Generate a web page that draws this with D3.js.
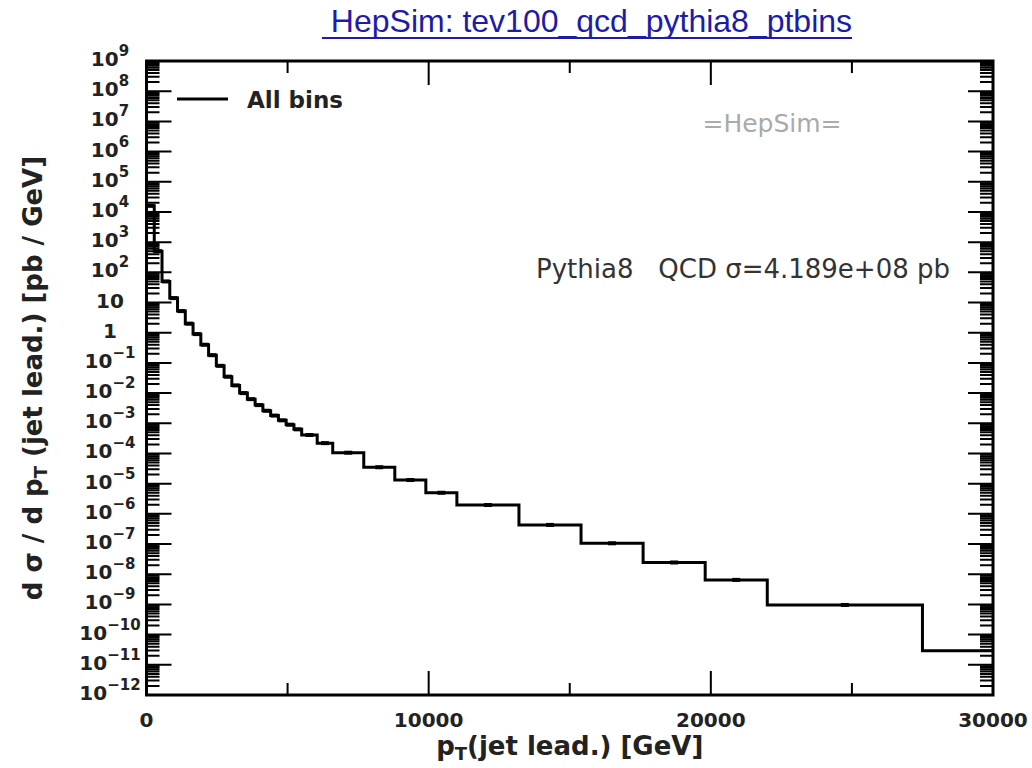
<!DOCTYPE html>
<html>
<head>
<meta charset="utf-8">
<script src="https://cdn.jsdelivr.net/npm/d3@7"></script>
<style>
  body { margin: 0; background: #fff; }
</style>
</head>
<body>
<div class="chart"></div>
<script>
// histogram bin edges (GeV) and dsigma/dpT values (pb/GeV)
const binEdges = [0, 275, 550, 825, 1100, 1375, 1650, 1925, 2200, 2475, 2750, 3025, 3300, 3575, 3850,
    4125, 4400, 4675, 4950, 5225, 5500, 6050, 6600, 7700, 8800, 9900, 11000, 13200, 15400, 17600,
    19800, 22000, 27500, 33000];
const binValues = [1.6e4, 5.0e2, 5.0e1, 1.4e1, 5.2, 2.0, 9.0e-1, 4.0e-1, 1.8e-1, 8.0e-2, 3.5e-2, 1.8e-2,
    1.0e-2, 6.3e-3, 4.0e-3, 2.6e-3, 1.8e-3, 1.25e-3, 9.0e-4, 6.3e-4, 4.1e-4, 2.2e-4, 1.06e-4, 3.5e-5,
    1.32e-5, 5.0e-6, 1.96e-6, 4.3e-7, 1.06e-7, 2.45e-8, 6.5e-9, 9.6e-10, 2.9e-11];

const yExponents = d3.range(-12, 10);
const xMajorTicks = [0, 10000, 20000, 30000];
const xMinorTicks = [5000, 15000, 25000];

const title = " HepSim: tev100_qcd_pythia8_ptbins";
const legendLabel = "All bins";
const watermark = "=HepSim=";
const infoText = "Pythia8   QCD \u03c3=4.189e+08 pb";

const width = 1032, height = 768;
const pLeft = 146.5, pRight = 993, pTop = 61, pBottom = 695;

const x = d3.scaleLinear().domain([0, 30000]).range([pLeft, pRight]);
const y = d3.scaleLog().domain([1e-12, 1e9]).range([pBottom, pTop]);

const svg = d3.select(".chart").append("svg")
    .attr("width", width)
    .attr("height", height)
    .style("font-family", "'DejaVu Sans', sans-serif");

svg.append("defs").append("clipPath").attr("id", "plot")
    .append("rect")
    .attr("x", pLeft).attr("y", pTop)
    .attr("width", pRight - pLeft).attr("height", pBottom - pTop);

// ticks, all pointing inwards
const ticks = svg.append("g").attr("stroke", "#000").attr("stroke-width", 2);
const minorY = [];
yExponents.forEach(e => {
    if (e < 9) d3.range(2, 10).forEach(k => minorY.push(k * Math.pow(10, e)));
});
const majorY = yExponents.map(e => Math.pow(10, e));

ticks.selectAll(".ymaj").data(majorY).join("path")
    .attr("d", d => `M${pLeft},${y(d)}h25M${pRight},${y(d)}h-25`);
ticks.selectAll(".ymin").data(minorY).join("path")
    .attr("d", d => `M${pLeft},${y(d)}h13M${pRight},${y(d)}h-13`);
ticks.selectAll(".xmaj").data(xMajorTicks).join("path")
    .attr("d", d => `M${x(d)},${pBottom}v-24M${x(d)},${pTop}v24`);
ticks.selectAll(".xmin").data(xMinorTicks).join("path")
    .attr("d", d => `M${x(d)},${pBottom}v-12M${x(d)},${pTop}v12`);

// histogram
let pathD = "";
binValues.forEach((v, i) => {
    const x0 = x(binEdges[i]), x1 = x(binEdges[i + 1]), yy = y(v);
    pathD += (i === 0 ? `M${x0},${yy}` : `V${yy}`) + `H${x1}`;
});
const hist = svg.append("g").attr("clip-path", "url(#plot)");
hist.append("path")
    .attr("d", pathD)
    .attr("fill", "none")
    .attr("stroke", "#000")
    .attr("stroke-width", 3);

// small error marks at bin centres
hist.selectAll(".err").data(binValues).join("rect")
    .attr("x", (d, i) => x((binEdges[i] + binEdges[i + 1]) / 2) - 4)
    .attr("y", d => y(d) - 2)
    .attr("width", 8)
    .attr("height", 4)
    .attr("fill", "#000");

// frame
svg.append("rect")
    .attr("x", pLeft).attr("y", pTop)
    .attr("width", pRight - pLeft).attr("height", pBottom - pTop)
    .attr("fill", "none")
    .attr("stroke", "#000")
    .attr("stroke-width", 3);

// y tick labels
const yLab = svg.append("g")
    .attr("font-weight", "bold")
    .attr("font-size", 20)
    .attr("fill", "#222")
    .attr("text-anchor", "middle");
yExponents.forEach(e => {
    const t = yLab.append("text")
        .attr("x", 110)
        .attr("y", y(Math.pow(10, e)) + 5);
    if (e === 0) t.text("1");
    else if (e === 1) t.text("10");
    else {
        t.append("tspan").text("10");
        t.append("tspan").attr("font-size", 15).attr("dy", -10)
            .text(e < 0 ? "\u2212" + (-e) : e);
    }
});

// x tick labels
svg.append("g")
    .attr("font-weight", "bold")
    .attr("font-size", 20)
    .attr("fill", "#222")
    .attr("text-anchor", "middle")
    .selectAll("text").data(xMajorTicks).join("text")
    .attr("x", d => x(d))
    .attr("y", 727)
    .text(d => d);

// axis titles
const xt = svg.append("text")
    .attr("x", (pLeft + pRight) / 2)
    .attr("y", 755)
    .attr("text-anchor", "middle")
    .attr("font-weight", "bold")
    .attr("font-size", 26)
    .attr("fill", "#222");
xt.append("tspan").text("p");
xt.append("tspan").attr("font-size", 18).attr("dy", 5).text("T");
xt.append("tspan").attr("dy", -5).text("(jet lead.) [GeV]");

const yt = svg.append("text")
    .attr("transform", `translate(42,${(pTop + pBottom) / 2}) rotate(-90)`)
    .attr("text-anchor", "middle")
    .attr("font-weight", "bold")
    .attr("font-size", 26)
    .attr("fill", "#222");
yt.append("tspan").text("d \u03c3 / d p");
yt.append("tspan").attr("font-size", 18).attr("dy", 5).text("T");
yt.append("tspan").attr("dy", -5).text(" (jet lead.) [pb / GeV]");

// title link
const tt = svg.append("text")
    .attr("x", 587)
    .attr("y", 32)
    .attr("text-anchor", "middle")
    .attr("font-family", "'Liberation Sans', Arial, sans-serif")
    .attr("font-size", 32)
    .attr("fill", "#1c1ca8")
    .style("white-space", "pre")
    .text(title);
const tw = tt.node().getComputedTextLength();
svg.append("line")
    .attr("x1", 587 - tw / 2).attr("x2", 587 + tw / 2)
    .attr("y1", 38).attr("y2", 38)
    .attr("stroke", "#1c1ca8")
    .attr("stroke-width", 2);

// legend
svg.append("line")
    .attr("x1", 177).attr("x2", 228)
    .attr("y1", 99).attr("y2", 99)
    .attr("stroke", "#000")
    .attr("stroke-width", 3);
svg.append("text")
    .attr("x", 247).attr("y", 108)
    .attr("font-weight", "bold")
    .attr("font-size", 23)
    .attr("fill", "#222")
    .text(legendLabel);

// annotations
svg.append("text")
    .attr("x", 772).attr("y", 132)
    .attr("text-anchor", "middle")
    .attr("font-size", 25)
    .attr("fill", "#aaa")
    .text(watermark);
svg.append("text")
    .attr("x", 950).attr("y", 278)
    .attr("text-anchor", "end")
    .attr("font-size", 26)
    .attr("fill", "#333")
    .style("white-space", "pre")
    .text(infoText);
</script>
</body>
</html>
